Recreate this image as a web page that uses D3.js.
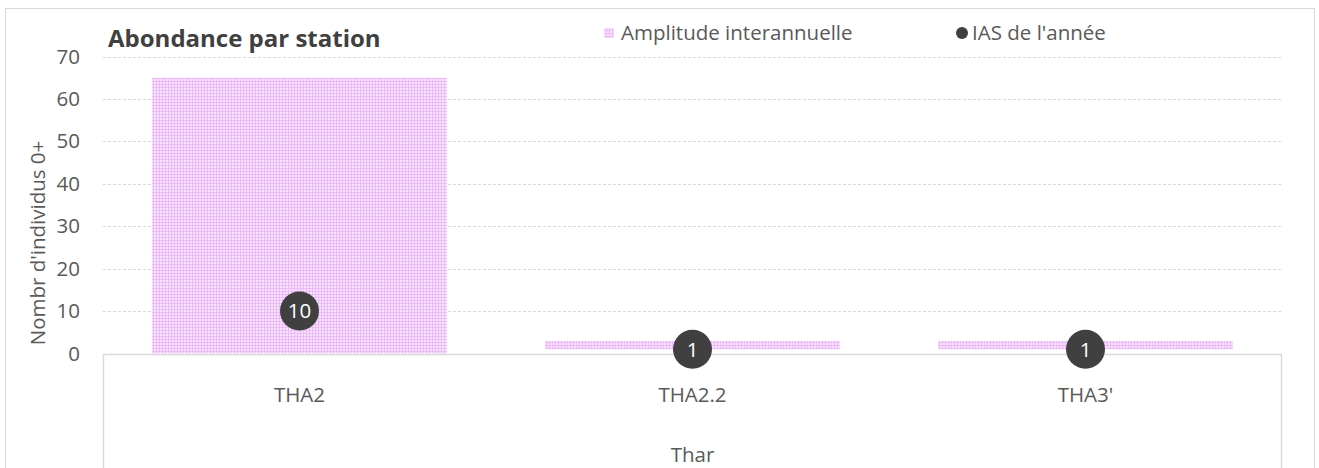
<!DOCTYPE html>
<html>
<head>
<meta charset="utf-8">
<script src="https://cdn.jsdelivr.net/npm/d3@7"></script>
<style>
  body { margin: 0; background: #fff; }
  svg { display: block; font-family: "Open Sans", "Noto Sans", sans-serif; }
</style>
</head>
<body>
<div id="chart"></div>
<script>
// data
var stations = ["THA2", "THA2.2", "THA3'"];
var group = "Thar";
var ampMin = [0, 1, 1];
var ampMax = [65, 3, 3];
var ias = [10, 1, 1];
var yTicks = [0, 10, 20, 30, 40, 50, 60, 70];

var W = 1319, H = 468;
var margin = { top: 57, left: 103, right: 37, bottom: 114 };
var fs = "20.5px";

var svg = d3.select("#chart").append("svg")
    .attr("width", W)
    .attr("height", H);

// outer frame
svg.append("rect")
    .attr("x", 5.5).attr("y", 8.5)
    .attr("width", 1309).attr("height", 480)
    .attr("fill", "#fff")
    .attr("stroke", "#d9d9d9");

var defs = svg.append("defs");
var pat = defs.append("pattern")
    .attr("id", "grid")
    .attr("width", 3).attr("height", 3)
    .attr("patternUnits", "userSpaceOnUse");
pat.append("rect").attr("width", 3).attr("height", 3).attr("fill", "#f7e3fd");
pat.append("rect").attr("width", 3).attr("height", 1).attr("fill", "#ebbcf9");
pat.append("rect").attr("width", 1).attr("height", 3).attr("fill", "#ebbcf9");

var x = d3.scaleBand()
    .domain(stations)
    .range([margin.left, W - margin.right])
    .paddingInner(0.25)
    .paddingOuter(0.125);

var xOuter = d3.scaleBand()
    .domain(stations)
    .range([margin.left, W - margin.right]);

var y = d3.scaleLinear()
    .domain([0, 70])
    .range([353.5, 56.5]);

// gridlines
svg.append("g")
    .selectAll("line")
    .data(yTicks.filter(d => d > 0))
    .enter()
    .append("line")
    .attr("x1", margin.left)
    .attr("x2", W - margin.right)
    .attr("y1", d => Math.round(y(d)) + 0.5)
    .attr("y2", d => Math.round(y(d)) + 0.5)
    .attr("stroke", "#d9d9d9")
    .attr("stroke-dasharray", "3,2");

// y axis labels
var yAxis = d3.axisLeft(y).tickValues(yTicks).tickSize(0).tickPadding(0);
var yAxisGroup = svg.append("g")
    .attr("transform", "translate(80,0)")
    .call(yAxis)
    .attr("font-family", null)
    .attr("font-size", null);
yAxisGroup.select(".domain").remove();
yAxisGroup.selectAll("text")
    .attr("fill", "#595959")
    .style("font-size", fs);

// amplitude bars
svg.append("g")
    .selectAll("rect")
    .data(stations)
    .enter()
    .append("rect")
    .attr("x", d => x(d))
    .attr("width", x.bandwidth())
    .attr("y", (d, i) => y(ampMax[i]))
    .attr("height", (d, i) => y(ampMin[i]) - y(ampMax[i]))
    .attr("fill", "url(#grid)");

// category axis box
var baseY = Math.round(y(0)) + 0.5;
svg.append("path")
    .attr("d", "M" + (margin.left + 0.5) + "," + (H + 5) + "V" + baseY + "H" + (W - margin.right - 0.5) + "V" + (H + 5))
    .attr("fill", "none")
    .attr("stroke", "#d9d9d9")
    .attr("stroke-width", 1.5);

svg.append("g")
    .selectAll("text")
    .data(stations)
    .enter()
    .append("text")
    .attr("x", d => xOuter(d) + xOuter.bandwidth() / 2)
    .attr("y", 402)
    .attr("text-anchor", "middle")
    .attr("fill", "#595959")
    .style("font-size", fs)
    .text(d => d);

svg.append("text")
    .attr("x", (margin.left + W - margin.right) / 2)
    .attr("y", 462)
    .attr("text-anchor", "middle")
    .attr("fill", "#595959")
    .style("font-size", fs)
    .text(group);

// IAS points
var pts = svg.append("g")
    .selectAll("g")
    .data(stations)
    .enter()
    .append("g")
    .attr("transform", (d, i) => "translate(" + (xOuter(d) + xOuter.bandwidth() / 2) + "," + y(ias[i]) + ")");
pts.append("circle")
    .attr("r", 19.5)
    .attr("fill", "#404040");
pts.append("text")
    .attr("text-anchor", "middle")
    .attr("dy", "0.36em")
    .attr("fill", "#fff")
    .style("font-size", fs)
    .text((d, i) => ias[i]);

// y title
svg.append("text")
    .attr("transform", "translate(45,243) rotate(-90)")
    .attr("text-anchor", "middle")
    .attr("fill", "#595959")
    .style("font-size", fs)
    .text("Nombr d'individus 0+");

// title
svg.append("text")
    .attr("x", 108)
    .attr("y", 47)
    .attr("fill", "#404040")
    .style("font-size", "24px")
    .style("font-weight", "bold")
    .text("Abondance par station");

// legend
svg.append("rect")
    .attr("x", 604).attr("y", 28)
    .attr("width", 10).attr("height", 10)
    .attr("fill", "url(#grid)");
svg.append("text")
    .attr("x", 621).attr("y", 40)
    .attr("fill", "#595959")
    .style("font-size", fs)
    .text("Amplitude interannuelle");
svg.append("circle")
    .attr("cx", 962).attr("cy", 33)
    .attr("r", 6)
    .attr("fill", "#404040");
svg.append("text")
    .attr("x", 972).attr("y", 40)
    .attr("fill", "#595959")
    .style("font-size", fs)
    .text("IAS de l'année");
</script>
</body>
</html>
